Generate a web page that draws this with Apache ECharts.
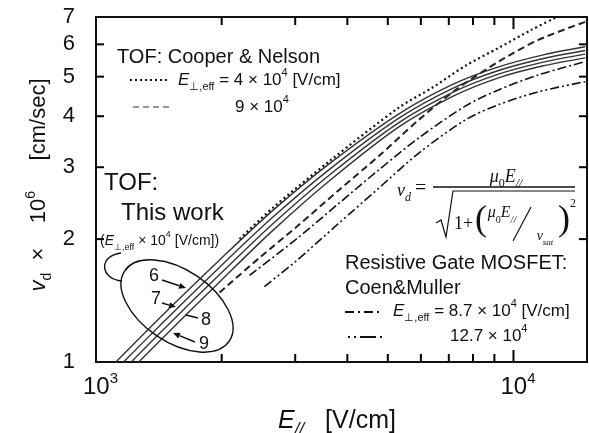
<!DOCTYPE html>
<html><head><meta charset="utf-8">
<script src="https://cdn.jsdelivr.net/npm/echarts@6/dist/echarts.min.js"></script>
<style>html,body{margin:0;padding:0;background:#fff}#c{width:589px;height:433px}</style>
</head><body><div id="c"></div>
<script>
// ---- data (E_parallel [V/cm], v_d [10^6 cm/s]) ----
const xMajorTicks = [1000, 10000];
const xMinorTicks = [2000, 3000, 4000, 5000, 6000, 7000, 8000, 9000];
const yTicks = [1, 2, 3, 4, 5, 6, 7];
const yInnerTicks = [2, 3, 4, 5, 6];

const tof6 = [[1116,1.0],[1453,1.311],[1977,1.778],[2645,2.345],[3618,3.057],[5315,4.054],[7192,4.80],[9209,5.285],[11793,5.655],[14851,5.917]];
const tof7 = [[1164,1.0],[1453,1.255],[1977,1.707],[2645,2.258],[3618,2.96],[5315,3.956],[7192,4.694],[9209,5.176],[11793,5.538],[14851,5.794]];
const tof8 = [[1214,1.0],[1453,1.203],[1977,1.637],[2645,2.175],[3618,2.868],[5315,3.859],[7192,4.589],[9209,5.072],[11793,5.427],[14851,5.678]];
const tof9 = [[1266,1.0],[1453,1.152],[1977,1.571],[2645,2.095],[3618,2.777],[5315,3.767],[7192,4.487],[9209,4.968],[11793,5.316],[14851,5.56]];
const cooper4 = [[2207,2.0],[2645,2.38],[3618,3.10],[5315,4.20],[6373,4.69],[7681,5.32],[9209,5.88],[11040,6.51],[12595,6.97]];
const cooper9 = [[1977,1.48],[2463,1.80],[3001,2.13],[3822,2.64],[4766,3.20],[5933,3.92],[7270,4.64],[9209,5.44],[11470,6.15],[14851,6.81]];
const coen87 = [[2331,1.63],[3001,1.99],[3822,2.45],[4766,2.96],[5933,3.54],[7681,4.24],[9209,4.64],[11470,5.05],[14851,5.44]];
const coen127 = [[2531,1.53],[3001,1.76],[3822,2.19],[4766,2.67],[5933,3.25],[7681,3.92],[9209,4.27],[11470,4.59],[14851,4.86]];

const X_MIN = 1000, X_MAX = 15000, Y_MIN = 1, Y_MAX = 7;

const SANS = '"Liberation Sans", Arial, sans-serif';
const SERIF = '"Liberation Serif", "Times New Roman", serif';
const INK = '#111';

function ser(name, data, lineStyle) {
  return { name, type: 'line', data, showSymbol: false, smooth: 0.3, clip: true,
    lineStyle: Object.assign({ color: INK, width: 1.5 }, lineStyle),
    emphasis: { disabled: true }, silent: true, z: 3 };
}
// tick marks drawn through the axes' own scales
function ticks(data, size, offset) {
  return { type: 'scatter', data, symbol: 'rect', symbolSize: size, symbolOffset: offset, clip: false,
    itemStyle: { color: '#000', opacity: 1 }, silent: true, z: 10, zlevel: 0 };
}

function richSet(fs, fam, subScale) {
  const sfs = Math.round(fs * (subScale || 0.64));
  return {
    i: { fontStyle: 'italic', fontSize: fs, fontFamily: fam, lineHeight: fs + 8, verticalAlign: 'middle', fill: INK },
    n: { fontSize: fs, fontFamily: fam, lineHeight: fs + 8, verticalAlign: 'middle', fill: INK },
    sub: { fontSize: sfs, fontFamily: fam, lineHeight: sfs, verticalAlign: 'bottom', fill: INK },
    subi: { fontSize: sfs, fontStyle: 'italic', fontFamily: fam, lineHeight: sfs, verticalAlign: 'bottom', fill: INK },
    sup: { fontSize: sfs, fontFamily: fam, lineHeight: sfs, verticalAlign: 'top', fill: INK }
  };
}

function txt(x, y, text, o) {
  o = o || {};
  return { type: 'text', x, y, z: 100, rotation: o.rotation || 0,
    style: { text, fill: INK, font: (o.font || '16px ' + SANS), textAlign: o.align || 'left',
      textVerticalAlign: o.valign || 'middle', rich: o.rich } };
}
function seg(x1, y1, x2, y2, o) {
  return { type: 'line', z: 100, shape: { x1, y1, x2, y2 },
    style: Object.assign({ stroke: INK, lineWidth: 1.4 }, o || {}) };
}
function arrow(x1, y1, x2, y2) {
  const a = Math.atan2(y2 - y1, x2 - x1), L = 7, W = 3;
  const bx = x2 - L * Math.cos(a), by = y2 - L * Math.sin(a);
  const px = -Math.sin(a) * W, py = Math.cos(a) * W;
  return [seg(x1, y1, bx, by, { lineWidth: 1.4 }),
    { type: 'polygon', z: 100, shape: { points: [[x2, y2], [bx + px, by + py], [bx - px, by - py]] }, style: { fill: INK } }];
}

const r17 = richSet(17, SANS);
const r14 = richSet(14, SANS);
const rSerif = richSet(18, SERIF);
const rSerif16 = richSet(16, SERIF);

const graphics = [
  // Cooper & Nelson legend
  txt(117, 57, 'TOF: Cooper & Nelson', { font: '20px ' + SANS }),
  seg(130, 80, 168, 80, { lineDash: [2, 3], lineWidth: 2 }),
  txt(178, 80, '{i|E}{sub|⊥,eff}{n| = 4 × 10}{sup|4}{n| [V/cm]}', { rich: r17 }),
  seg(133, 107, 170, 107, { lineDash: [6, 4], lineWidth: 2, stroke: '#999' }),
  txt(235, 107, '{n|9 × 10}{sup|4}', { rich: r17 }),
  // This work
  txt(104, 183, 'TOF:', { font: '24px ' + SANS }),
  txt(121, 213, 'This work', { font: '24px ' + SANS }),
  txt(100, 241, '{n|(}{i|E}{sub|⊥,eff}{n| × 10}{sup|4}{n| [V/cm])}', { rich: r14 }),
  { type: 'ellipse', z: 100, x: 177, y: 306, rotation: -0.593, shape: { cx: 0, cy: 0, rx: 63, ry: 36 },
    style: { fill: null, stroke: INK, lineWidth: 1.4 } },
  { type: 'bezierCurve', z: 100, shape: { x1: 121, y1: 253, cpx1: 98, cpy1: 256, cpx2: 100, cpy2: 279, x2: 122, y2: 281 },
    style: { fill: null, stroke: INK, lineWidth: 1.4 } },
  txt(154, 276, '6', { font: '18px ' + SANS, align: 'center' }),
  txt(156, 299, '7', { font: '18px ' + SANS, align: 'center' }),
  txt(206, 320, '8', { font: '18px ' + SANS, align: 'center' }),
  txt(204, 344, '9', { font: '18px ' + SANS, align: 'center' }),
  ...arrow(162, 280, 186, 288),
  ...arrow(162, 303, 176, 307),
  seg(198, 318, 186, 315),
  ...arrow(195, 342, 173, 333),
  // formula
  txt(397, 191, '{i|v}{subi|d}', { rich: rSerif }),
  txt(415, 189, '=', { font: '20px ' + SERIF }),
  seg(433, 187, 575, 187, { lineWidth: 1.3 }),
  { type: 'polyline', z: 100, shape: { points: [[436, 223], [441, 220], [446, 237], [453, 191], [575, 191]] },
    style: { fill: null, stroke: INK, lineWidth: 1.2 } },
  txt(506, 177, '{i|μ}{sub|0}{i|E}{subi|//}', { rich: rSerif, align: 'center' }),
  txt(454, 224, '1+', { font: '18px ' + SERIF }),
  txt(475, 221, '(', { font: '36px ' + SERIF, valign: 'middle' }),
  txt(502, 213, '{i|μ}{sub|0}{i|E}{subi|//}', { rich: rSerif16, align: 'center' }),
  seg(531, 207, 513, 241, { lineWidth: 1.2 }),
  txt(545, 236, '{i|v}{subi|sat}', { rich: richSet(14, SERIF), align: 'center' }),
  txt(558, 221, ')', { font: '36px ' + SERIF, valign: 'middle' }),
  txt(570, 204, '2', { font: '12px ' + SERIF }),
  // Coen & Muller legend
  txt(345, 263, 'Resistive Gate MOSFET:', { font: '20px ' + SANS }),
  txt(345, 288, 'Coen&Muller', { font: '20px ' + SANS }),
  seg(345, 312, 381, 312, { lineDash: [9, 4, 2, 4], lineWidth: 2 }),
  txt(393, 311, '{i|E}{sub|⊥,eff}{n| = 8.7 × 10}{sup|4}{n| [V/cm]}', { rich: r17 }),
  seg(348, 337, 383, 337, { lineDash: [2, 4, 2, 4, 14, 0], lineWidth: 2 }),
  txt(450, 336, '{n|12.7 × 10}{sup|4}', { rich: r17 }),
  // axis names
  txt(337, 421, '{i|E}{subi|//}{n|   [V/cm]}', { rich: richSet(25, SANS, 0.66), align: 'center' }),
  txt(39, 185, '{i|v}{sub|d}{n|  ×    10}{sup|6}{n|     [cm/sec]}', { rich: richSet(22, SANS), align: 'center', rotation: Math.PI / 2 })
];

const chart = echarts.init(document.getElementById('c'));
chart.setOption({
  animation: false,
  backgroundColor: '#fff',
  grid: { left: 96, right: 2, top: 17, bottom: 71 },
  xAxis: [
    { type: 'log', logBase: 10, min: X_MIN, max: X_MAX, position: 'bottom', splitLine: { show: false },
      axisLine: { show: true, lineStyle: { color: INK, width: 2 } },
      axisTick: { show: false },
      axisLabel: { show: true, customValues: xMajorTicks, margin: 9,
        formatter: function (v) { return '{sp|}{n|10}{s|' + Math.round(Math.log10(v)) + '}'; },
        rich: { sp: { width: 9 }, n: { fontSize: 24, fontFamily: SANS, color: INK, lineHeight: 28, verticalAlign: 'bottom' },
          s: { fontSize: 15, fontFamily: SANS, color: INK, lineHeight: 15, verticalAlign: 'top' } } } },
    { type: 'log', logBase: 10, min: X_MIN, max: X_MAX, position: 'top', splitLine: { show: false },
      axisLine: { show: true, lineStyle: { color: INK, width: 2 } },
      axisTick: { show: false }, axisLabel: { show: false } }
  ],
  yAxis: [
    { type: 'log', logBase: 10, min: Y_MIN, max: Y_MAX, position: 'left', splitLine: { show: false },
      axisLine: { show: true, lineStyle: { color: INK, width: 2 } },
      axisTick: { show: false },
      axisLabel: { show: true, customValues: yTicks, margin: 21, fontSize: 22, fontFamily: SANS, color: INK } },
    { type: 'log', logBase: 10, min: Y_MIN, max: Y_MAX, position: 'right', splitLine: { show: false },
      axisLine: { show: true, lineStyle: { color: INK, width: 2 } },
      axisTick: { show: false }, axisLabel: { show: false } }
  ],
  series: [
    ser('Coen 12.7', coen127, { type: [9, 3, 2, 3, 2, 3], width: 1.6 }),
    ser('Coen 8.7', coen87, { type: [9, 3, 2, 3], width: 1.6 }),
    ser('Cooper 9', cooper9, { type: [7, 4], width: 2, color: '#222' }),
    ser('TOF 9', tof9, { color: '#333', width: 1.4 }),
    ser('TOF 8', tof8, { color: '#333', width: 1.4 }),
    ser('TOF 7', tof7, { color: '#333', width: 1.4 }),
    ser('TOF 6', tof6, { color: '#333', width: 1.4 }),
    ser('Cooper 4', cooper4, { type: [2, 3], width: 2.2, color: '#111' }),
    // axis tick marks (inside), bottom / top / left / right
    ticks(xMinorTicks.map(function (e) { return [e, Y_MIN]; }), [2, 8], [0, -4]),
    ticks(xMinorTicks.map(function (e) { return [e, Y_MAX]; }), [2, 8], [0, 4]),
    ticks([[xMajorTicks[1], Y_MIN]], [2, 12], [0, -6]),
    ticks([[xMajorTicks[1], Y_MAX]], [2, 12], [0, 6]),
    ticks(yInnerTicks.map(function (v) { return [X_MIN, v]; }), [8, 2], [4, 0]),
    ticks(yInnerTicks.map(function (v) { return [X_MAX, v]; }), [8, 2], [-4, 0])
  ],
  graphic: graphics
});
</script></body></html>
